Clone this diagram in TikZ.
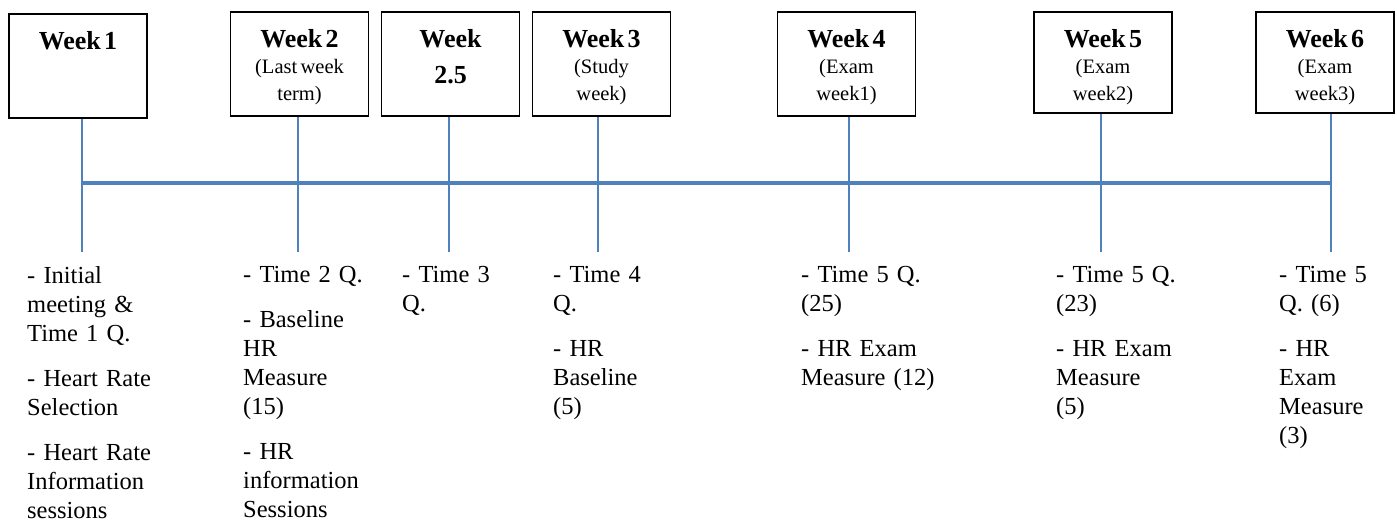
\documentclass[tikz,border=0pt]{standalone}
\usepackage{fontspec}
\setmainfont{Liberation Serif}
\definecolor{tlblue}{HTML}{4F81BD}
\newcommand\titlefont{\fontsize{26}{36}\selectfont\bfseries}
\newcommand\subfont{\fontsize{20.5}{26.5}\selectfont}
\newcommand\notefont{\fontsize{24.5}{29}\selectfont}
\newcommand\gap{\par\vspace{16pt}}
\tikzset{
  weekbox/.style={draw=black, line width=1.2pt, minimum width=138pt, inner sep=0pt},
  boxtitle/.style={anchor=north, inner sep=0pt, text width=134pt, align=center},
  vline/.style={draw=tlblue, line width=2pt},
  mainline/.style={draw=tlblue, line width=4pt},
  notes/.style={anchor=north west, inner sep=0pt, text width=160pt, align=left, font=\notefont},
}
\begin{document}
\begin{tikzpicture}[x=1pt, y=-1pt]
\useasboundingbox[fill=white] (0,0) rectangle (1397,522);

% week boxes
\node[weekbox, minimum height=104pt] (w1)  at (78,66)     {};
\node[weekbox, minimum height=104pt] (w2)  at (299.5,64)  {};
\node[weekbox, minimum height=104pt] (w25) at (450.5,64)  {};
\node[weekbox, minimum height=104pt] (w3)  at (601.5,64)  {};
\node[weekbox, minimum height=104pt] (w4)  at (846.5,64)  {};
\node[weekbox, minimum height=101pt] (w5)  at (1103,62.5) {};
\node[weekbox, minimum height=101pt] (w6)  at (1325,62.5) {};

% titles
\node[boxtitle] (t1)  at ([yshift=-17.5pt]w1.north)  {{\titlefont Week 1\par}};
\node[boxtitle] (t2)  at ([yshift=-17.5pt]w2.north)  {{\titlefont Week 2\par}\subfont (Last week\\term)\par};
\node[boxtitle] (t25) at ([yshift=-17.5pt]w25.north) {{\titlefont Week\\2.5\par}};
\node[boxtitle] (t3)  at ([yshift=-17.5pt]w3.north)  {{\titlefont Week 3\par}\subfont (Study\\week)\par};
\node[boxtitle] (t4)  at ([yshift=-17.5pt]w4.north)  {{\titlefont Week 4\par}\subfont (Exam\\week1)\par};
\node[boxtitle] (t5)  at ([yshift=-17.5pt]w5.north)  {{\titlefont Week 5\par}\subfont (Exam\\week2)\par};
\node[boxtitle] (t6)  at ([yshift=-17.5pt]w6.north)  {{\titlefont Week 6\par}\subfont (Exam\\week3)\par};

% timeline
\coordinate (l1)  at (82,252);
\coordinate (l2)  at (298,252);
\coordinate (l25) at (449,252);
\coordinate (l3)  at (598,252);
\coordinate (l4)  at (849,252);
\coordinate (l5)  at (1101,252);
\coordinate (l6)  at (1331,252);
\draw[vline] (w1.south -| l1) -- (l1);
\draw[vline] (w2.south -| l2) -- (l2);
\draw[vline] (w25.south -| l25) -- (l25);
\draw[vline] (w3.south -| l3) -- (l3);
\draw[vline] (w4.south -| l4) -- (l4);
\draw[vline] (w5.south -| l5) -- (l5);
\draw[vline] (w6.south -| l6) -- (l6);
\coordinate (m1) at (82,183);
\coordinate (m6) at (1331,183);
\draw[mainline] (m1) -- (m6);

% notes
\node[notes] (n1)  at (27,266.5)   {- Initial\\meeting \&\\Time 1 Q.\gap - Heart Rate\\Selection\gap - Heart Rate\\Information\\sessions};
\node[notes] (n2)  at (243,266.5)  {- Time 2 Q.\gap - Baseline\\HR\\Measure\\(15)\gap - HR\\information\\Sessions};
\node[notes] (n25) at (402,266.5)  {- Time 3\\Q.};
\node[notes] (n3)  at (553,266.5)  {- Time 4\\Q.\gap - HR\\Baseline\\(5)};
\node[notes] (n4)  at (801,266.5)  {- Time 5 Q.\\(25)\gap - HR Exam\\Measure (12)};
\node[notes] (n5)  at (1056,266.5) {- Time 5 Q.\\(23)\gap - HR Exam\\Measure\\(5)};
\node[notes] (n6)  at (1279,266.5) {- Time 5\\Q. (6)\gap - HR\\Exam\\Measure\\(3)};
\end{tikzpicture}
\end{document}
